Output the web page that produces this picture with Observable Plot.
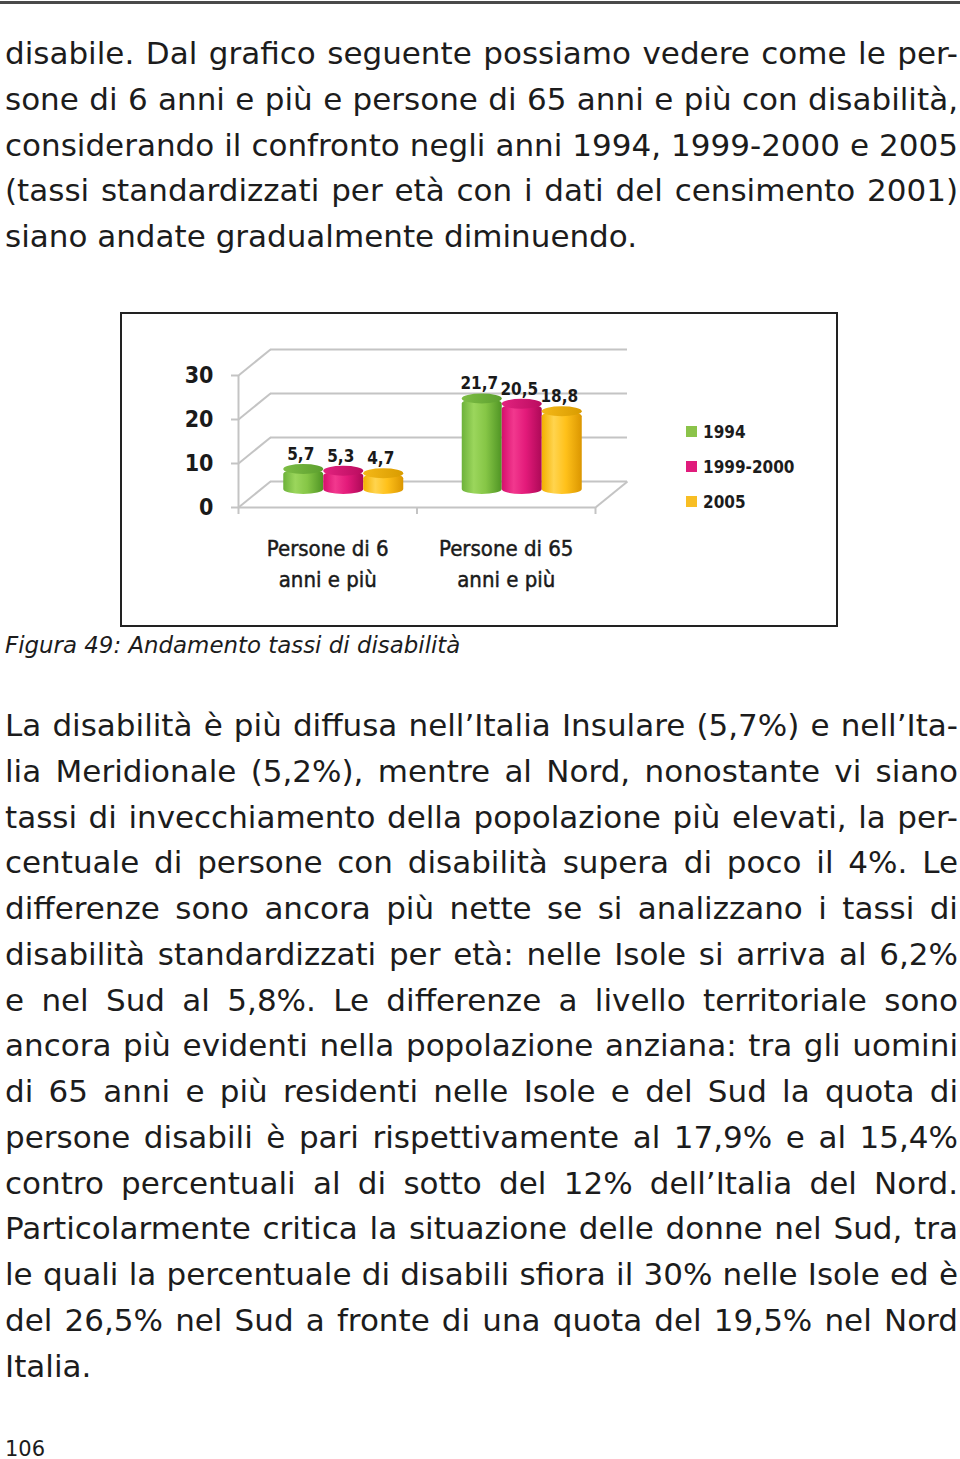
<!DOCTYPE html>
<html><head><meta charset="utf-8">
<script src="https://cdn.jsdelivr.net/npm/d3@7"></script>
<script src="https://cdn.jsdelivr.net/npm/@observablehq/plot@0.6"></script>
<style>
html,body{margin:0;padding:0;background:#fff;}
body{width:960px;height:1459px;position:relative;overflow:hidden;font-family:"DejaVu Sans",Verdana,sans-serif;color:#1c1c1c;}
.rule{position:absolute;left:0;top:1px;width:960px;height:3px;background:#4a4a4a;}
.para{position:absolute;left:5px;width:953px;font-size:31px;line-height:45.75px;}
.para div{text-align:justify;text-align-last:justify;white-space:nowrap;}
.para div.last{text-align:left;text-align-last:left;}
#chartbox{position:absolute;left:120px;top:312px;width:714px;height:311px;border:2px solid #222;}
#chart{position:absolute;left:0;top:0;}
#legend{position:absolute;left:564px;top:100px;font-family:"DejaVu Sans Condensed","DejaVu Sans",sans-serif;font-stretch:condensed;font-weight:bold;font-size:17px;color:#1c1c1c;}
#legend .item{display:flex;align-items:center;height:35px;}
#legend .sw{width:11px;height:11px;margin-right:6px;}
.caption{position:absolute;left:5px;top:630px;font-style:italic;font-size:22.9px;line-height:30px;}
.pagenum{position:absolute;left:5px;top:1434px;font-size:21px;line-height:30px;}
</style></head>
<body>
<div class="rule"></div>
<div class="para" id="p1" style="top:31px"></div>
<div id="chartbox"><div id="chart"></div><div id="legend"></div></div>
<div class="caption">Figura 49: Andamento tassi di disabilità</div>
<div class="para" id="p2" style="top:703px"></div>
<div class="pagenum">106</div>
<script>
// ---- data ----
const categories = ["Persone di 6\nanni e più", "Persone di 65\nanni e più"];
const series = ["1994", "1999-2000", "2005"];
const values1994 = [5.7, 21.7];
const values1999_2000 = [5.3, 20.5];
const values2005 = [4.7, 18.8];
const yTicks = [0, 10, 20, 30];

const para1 = [
  "disabile. Dal grafico seguente possiamo vedere come le per-",
  "sone di 6 anni e più e persone di 65 anni e più con disabilità,",
  "considerando il confronto negli anni 1994, 1999-2000 e 2005",
  "(tassi standardizzati per età con i dati del censimento 2001)",
  "siano andate gradualmente diminuendo."
];
const para2 = [
  "La disabilità è più diffusa nell’Italia Insulare (5,7%) e nell’Ita-",
  "lia Meridionale (5,2%), mentre al Nord, nonostante vi siano",
  "tassi di invecchiamento della popolazione più elevati, la per-",
  "centuale di persone con disabilità supera di poco il 4%. Le",
  "differenze sono ancora più nette se si analizzano i tassi di",
  "disabilità standardizzati per età: nelle Isole si arriva al 6,2%",
  "e nel Sud al 5,8%. Le differenze a livello territoriale sono",
  "ancora più evidenti nella popolazione anziana: tra gli uomini",
  "di 65 anni e più residenti nelle Isole e del Sud la quota di",
  "persone disabili è pari rispettivamente al 17,9% e al 15,4%",
  "contro percentuali al di sotto del 12% dell’Italia del Nord.",
  "Particolarmente critica la situazione delle donne nel Sud, tra",
  "le quali la percentuale di disabili sfiora il 30% nelle Isole ed è",
  "del 26,5% nel Sud a fronte di una quota del 19,5% nel Nord",
  "Italia."
];

// ---- styles ----
const legendColors = ["#8bc34a", "#e01c7c", "#f8be24"];
const bodyStops = [
  [[0, "#6db23a"], [0.3, "#9bd65c"], [0.6, "#86c646"], [1, "#4f9424"]],
  [[0, "#d60f6d"], [0.3, "#f2388e"], [0.6, "#e31a7a"], [1, "#ad0957"]],
  [[0, "#f3b000"], [0.3, "#ffd44e"], [0.6, "#ffc11a"], [1, "#db9600"]]
];
const topStops = [
  [[0, "#7dbd45"], [1, "#5c9f2e"]],
  [[0, "#e2237f"], [1, "#bb0c60"]],
  [[0, "#f4b818"], [1, "#d99c00"]]
];
const gridColor = "#c4c4c4";
const condensed = "'DejaVu Sans Condensed','DejaVu Sans',sans-serif";

// ---- text ----
function fill(id, lines) {
  const p = d3.select(id);
  lines.forEach((t, i) => p.append("div").attr("class", i === lines.length - 1 ? "last" : null).text(t));
}
fill("#p1", para1);
fill("#p2", para2);

// ---- chart ----
const DX = 32 / 178.5;   // depth offset in x units
const DY = 26 / 4.4;     // depth offset in y units
const BW = 40 / 178.5;   // bar width in x units
const allValues = [values1994, values1999_2000, values2005];
const rows = [];
allValues.forEach((vals, k) => vals.forEach((v, i) => {
  const x1 = i + 0.5 + DX / 2 + (k - 1.5) * BW;
  rows.push({k, i, v, x1, x2: x1 + BW});
}));
const fmt = v => v.toLocaleString("it-IT");

const barMarks = [];
[0, 1, 2].forEach(k => {
  const d = rows.filter(r => r.k === k);
  barMarks.push(Plot.rect(d, {x1: "x1", x2: "x2", y1: DY / 2, y2: r => r.v + DY / 2, fill: `url(#body${k})`, rx: 20, ry: 5}));
  barMarks.push(Plot.rect(d, {x1: "x1", x2: "x2", y1: r => r.v + DY / 2, y2: r => r.v + DY / 2, insetTop: -5, insetBottom: -5, fill: `url(#top${k})`, rx: 20, ry: 5}));
});

const chart = Plot.plot({
  width: 714, height: 311,
  marginLeft: 116, marginRight: 241, marginTop: 61, marginBottom: 118,
  x: {domain: [0, 2], axis: null},
  y: {domain: [0, 30], axis: null},
  style: {background: "transparent", overflow: "visible", fontFamily: condensed},
  marks: [
    Plot.link(yTicks, {x1: 0, y1: d => d, x2: DX, y2: d => d + DY, stroke: gridColor, strokeWidth: 2}),
    Plot.ruleY(yTicks, {y: d => d + DY, x1: DX, x2: 2 + DX, stroke: gridColor, strokeWidth: 2}),
    Plot.ruleY([0], {x1: 0, x2: 2, stroke: gridColor, strokeWidth: 2}),
    Plot.link([0], {x1: 2, y1: 0, x2: 2 + DX, y2: DY, stroke: gridColor, strokeWidth: 2}),
    Plot.ruleX([0], {y1: 0, y2: 30, stroke: gridColor, strokeWidth: 2}),
    Plot.axisY(yTicks, {tickSize: 7, tickFormat: () => "", stroke: gridColor, strokeWidth: 2, label: null}),
    Plot.axisY(yTicks, {tickSize: 0, tickPadding: 25, fontSize: 23, fontWeight: "bold", fill: "#1a1a1a", label: null}),
    Plot.axisX([0, 1, 2], {tickSize: 7, tickFormat: () => "", stroke: gridColor, strokeWidth: 2, label: null}),
    ...barMarks,
    Plot.text(rows, {x: r => (r.x1 + r.x2) / 2, y: r => r.v + DY / 2, dx: -3, dy: -15, text: r => fmt(r.v), fontSize: 17, fontWeight: "bold", fill: "#1a1a1a"}),
    Plot.text(categories, {x: (d, i) => i + 0.5, y: 0, dy: 54, text: d => d, fontSize: 22, lineHeight: 1.42, fill: "#1a1a1a", stroke: "#1a1a1a", strokeWidth: 0.45})
  ]
});
document.getElementById("chart").appendChild(chart);

// gradients
const defs = d3.select(chart).insert("defs", ":first-child");
function grad(id, stops) {
  const g = defs.append("linearGradient").attr("id", id).attr("x1", 0).attr("x2", 1).attr("y1", 0).attr("y2", 0);
  stops.forEach(([o, c]) => g.append("stop").attr("offset", o).attr("stop-color", c));
}
bodyStops.forEach((s, k) => grad(`body${k}`, s));
topStops.forEach((s, k) => grad(`top${k}`, s));

// legend
const lg = d3.select("#legend");
series.forEach((s, k) => {
  const it = lg.append("div").attr("class", "item");
  it.append("div").attr("class", "sw").style("background", legendColors[k]);
  it.append("span").text(s);
});
</script>
</body></html>
